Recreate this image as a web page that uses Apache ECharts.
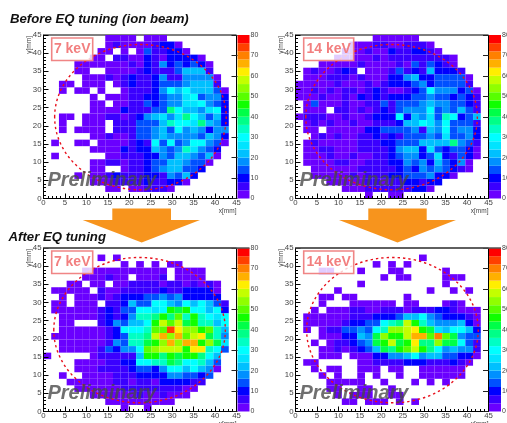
<!DOCTYPE html>
<html><head><meta charset="utf-8">
<style>html,body{margin:0;padding:0;background:#fff;overflow:hidden}#c{width:507px;height:423px;filter:blur(0.4px)}</style>
<script src="https://cdn.jsdelivr.net/npm/echarts@6/dist/echarts.min.js"></script>
</head><body><div id="c"></div>
<script>
// Counts per 1.8 mm bin; rows run from the top of the plot (y = 45) to the bottom (y = 0).
const before7keV = [
[0,0,0,0,0,0,0,0,2,2,2,2,0,2,2,2,0,0,0,0,0,0,0,0,0],
[0,0,0,0,0,0,0,0,2,6,2,2,2,2,6,10,10,2,0,0,0,0,0,0,0],
[0,0,0,0,0,0,0,2,2,0,2,0,2,14,6,6,10,10,2,0,0,0,0,0,0],
[0,0,0,0,0,0,2,2,0,6,6,2,2,10,6,2,10,10,10,10,2,0,0,0,0],
[0,0,0,0,2,2,2,2,2,2,2,6,2,10,6,18,10,14,10,14,10,2,0,0,0],
[0,0,0,0,2,2,0,0,2,2,2,2,6,10,6,6,6,14,22,22,22,6,0,0,0],
[0,0,0,0,0,2,2,2,6,2,6,10,6,6,10,18,6,6,18,18,18,18,2,0,0],
[0,0,2,2,0,2,2,2,0,2,6,10,6,6,10,14,14,14,18,22,22,22,6,0,0],
[0,0,2,0,2,2,0,2,0,0,2,6,6,6,10,18,30,22,30,22,22,22,14,2,0],
[0,0,0,0,0,0,2,0,2,2,2,6,6,10,10,14,18,18,26,30,14,18,18,10,0],
[0,0,0,0,0,0,2,2,0,2,2,6,6,14,10,14,18,18,26,26,30,18,14,10,0],
[0,0,0,0,0,0,2,2,2,2,10,6,6,6,14,14,38,30,22,22,18,26,30,10,0],
[0,0,2,2,0,2,2,2,6,6,2,6,10,18,22,26,18,26,38,30,22,14,22,10,0],
[0,0,2,0,0,2,2,2,0,6,6,6,14,14,14,22,34,30,30,26,38,22,18,10,0],
[0,0,2,0,2,2,2,2,0,6,6,6,14,14,18,22,14,30,18,22,18,10,18,18,0],
[0,0,0,0,0,0,2,2,6,2,2,6,14,14,18,22,18,18,18,18,14,22,18,10,0],
[0,2,0,0,2,2,0,2,2,2,2,6,10,6,30,14,30,14,18,30,30,18,14,2,0],
[0,0,0,0,0,0,2,2,2,2,10,6,10,10,22,18,14,18,34,26,18,14,10,0,0],
[0,2,0,0,0,0,0,0,2,2,6,6,6,10,10,18,14,22,22,18,14,22,2,0,0],
[0,0,0,0,0,0,2,2,6,6,2,6,6,10,14,14,22,22,18,14,14,2,0,0,0],
[0,0,0,0,0,0,2,2,0,0,2,6,6,10,14,18,22,22,14,14,10,0,0,0,0],
[0,0,0,0,2,0,2,2,6,10,6,6,6,10,10,6,18,14,22,10,0,0,0,0,0],
[0,0,0,0,0,0,2,2,2,6,6,6,6,10,6,6,10,10,2,0,0,0,0,0,0],
[0,0,0,0,0,0,0,0,2,2,0,2,2,6,6,6,2,0,0,0,0,0,0,0,0],
[0,0,0,0,0,0,0,0,0,0,0,0,0,0,0,0,0,0,0,0,0,0,0,0,0]];
const before14keV = [
[0,0,0,0,0,0,0,0,0,0,2,2,2,2,2,2,0,0,0,0,0,0,0,0,0],
[0,0,0,0,0,0,0,2,2,2,6,6,2,2,6,6,6,2,0,0,0,0,0,0,0],
[0,0,0,0,0,0,2,2,2,6,2,2,10,6,6,10,10,6,2,0,0,0,0,0,0],
[0,0,0,0,0,2,2,2,2,2,6,2,6,6,6,6,6,6,6,6,2,0,0,0,0],
[0,0,0,2,2,2,2,2,6,2,2,2,2,6,2,14,6,14,10,6,2,0,0,0,0],
[0,2,6,2,2,6,10,6,0,2,2,2,6,14,6,10,6,22,10,10,10,6,0,0,0],
[0,2,2,2,6,6,6,2,6,2,2,2,10,10,18,22,10,10,14,14,14,14,2,0,0],
[2,2,2,2,2,6,2,2,2,6,2,6,10,10,10,14,18,10,14,14,14,14,6,0,0],
[2,2,6,2,6,2,6,6,2,6,10,6,2,2,6,10,14,30,18,18,18,10,14,2,0],
[2,2,2,6,2,2,6,2,10,6,10,6,10,10,10,14,14,18,14,14,10,14,10,6,0],
[0,2,14,2,2,2,6,2,2,6,6,14,6,14,14,14,18,22,18,18,14,14,10,6,0],
[0,2,2,2,0,6,6,2,6,2,6,10,6,14,18,18,18,30,14,18,14,22,14,6,0],
[2,6,6,6,2,2,6,2,2,6,10,10,10,30,10,22,18,26,14,34,30,10,14,22,0],
[0,2,6,2,6,2,2,6,2,2,6,6,6,10,22,22,30,26,18,30,14,14,14,6,0],
[0,2,2,0,2,2,2,2,2,10,10,14,14,14,14,18,6,22,18,30,14,18,18,10,0],
[0,0,2,6,2,6,2,2,6,6,10,6,10,6,14,14,14,18,14,26,14,14,18,10,0],
[0,2,6,2,2,2,2,2,6,6,6,10,10,14,14,14,22,22,22,22,38,18,14,6,0],
[0,2,2,6,6,2,2,2,6,6,6,6,10,18,22,22,10,26,14,10,14,14,10,2,0],
[0,2,2,2,6,2,2,6,2,2,6,6,10,14,18,18,10,14,26,10,6,14,10,2,0],
[0,2,2,2,2,6,6,2,2,6,6,6,10,10,18,14,18,10,22,14,10,18,2,0,0],
[0,0,2,2,2,2,2,2,6,6,6,6,6,10,14,10,18,14,18,14,10,6,2,0,0],
[0,0,2,2,2,2,2,6,2,6,6,6,10,10,14,14,14,18,10,10,2,0,0,0,0],
[0,0,0,0,2,2,2,2,2,6,6,2,6,6,10,10,6,10,10,0,0,0,0,0,0],
[0,0,0,0,0,0,2,2,2,6,6,6,6,6,6,10,10,2,0,0,0,0,0,0,0],
[0,0,0,0,0,0,0,0,0,2,0,0,2,2,0,0,0,0,0,0,0,0,0,0,0]];
const after7keV = [
[0,0,0,0,0,0,0,0,0,0,0,0,0,0,0,0,0,0,0,0,0,0,0,0,0],
[0,0,0,0,0,0,0,2,0,2,0,0,0,0,0,0,0,0,0,0,0,0,0,0,0],
[0,0,0,0,0,0,0,0,0,0,2,0,2,0,2,0,2,2,0,0,0,0,0,0,0],
[0,0,0,0,0,2,2,2,2,2,2,2,2,2,2,2,0,2,2,2,2,0,0,0,0],
[0,0,0,0,0,2,2,2,6,2,2,0,2,2,2,6,0,2,2,2,2,0,0,0,0],
[0,0,0,2,2,0,2,2,0,2,2,6,6,6,6,2,6,6,2,6,2,6,2,0,0],
[0,2,2,2,2,2,0,6,2,2,6,6,6,6,6,10,6,6,10,10,10,10,2,0,0],
[0,0,2,0,2,2,2,6,2,6,10,10,10,14,14,18,14,18,10,10,10,10,10,0,0],
[0,2,2,0,2,2,2,0,6,6,10,22,14,14,30,30,22,18,30,22,30,22,14,6,0],
[0,2,2,2,2,2,2,6,10,6,14,14,30,30,24,30,44,40,44,30,30,22,30,10,0],
[0,0,2,2,2,2,2,6,10,6,10,18,34,34,38,46,38,50,34,44,34,30,26,30,0],
[0,0,2,2,0,0,0,6,10,18,14,22,22,30,44,58,50,58,40,46,32,32,22,30,0],
[0,0,2,2,2,2,2,2,6,10,30,30,30,32,50,50,74,62,54,54,44,50,34,22,0],
[0,2,2,2,2,2,2,2,6,10,14,34,34,38,58,66,54,66,50,58,60,42,34,18,0],
[0,0,2,2,2,2,2,2,6,18,14,32,32,40,44,54,66,54,66,66,46,52,40,26,0],
[0,0,2,2,2,2,2,6,14,10,18,18,30,50,54,56,56,56,44,60,60,34,30,14,0],
[2,0,0,0,0,0,2,6,6,6,6,6,22,44,44,38,46,42,44,44,38,30,22,0,0],
[0,0,0,0,2,2,2,2,6,6,10,10,30,30,34,32,40,38,30,30,34,22,14,0,0],
[0,0,0,0,2,2,2,6,6,6,6,10,14,14,10,18,30,30,22,30,22,18,2,0,0],
[0,0,2,0,0,2,2,2,2,6,6,6,10,10,10,10,18,18,14,14,10,14,0,0,0],
[0,0,0,2,2,2,2,2,2,6,6,2,6,6,2,10,10,10,10,6,6,0,0,0,0],
[0,0,0,0,2,2,2,2,2,2,6,6,6,6,6,6,6,6,2,2,0,0,0,0,0],
[0,0,0,0,0,0,2,2,2,2,2,2,6,2,2,6,2,2,2,0,0,0,0,0,0],
[0,0,0,0,0,0,0,0,2,2,2,2,2,2,2,2,2,0,0,0,0,0,0,0,0],
[0,0,0,0,0,0,0,0,0,0,2,0,0,2,0,0,0,0,0,0,0,0,0,0,0]];
const after14keV = [
[0,0,0,0,0,0,0,0,0,0,0,0,0,0,0,0,0,0,0,0,0,0,0,0,0],
[0,0,0,0,0,0,0,0,0,0,0,0,0,0,0,0,2,0,0,0,0,0,0,0,0],
[0,0,0,0,0,0,0,0,0,0,2,0,2,0,2,0,0,0,0,0,0,0,0,0,0],
[0,0,0,2,2,0,0,0,2,0,0,0,2,2,0,0,0,0,0,2,0,0,0,0,0],
[0,0,0,0,0,0,0,0,0,0,0,2,0,2,2,0,0,0,0,2,2,2,0,0,0],
[0,0,0,0,0,0,0,0,2,0,0,0,0,0,0,0,0,0,0,2,0,0,0,0,0],
[0,0,0,0,0,2,0,0,0,0,0,0,0,0,0,0,0,2,0,0,2,0,2,0,0],
[0,0,0,2,2,0,2,2,0,0,0,0,0,0,2,0,0,0,0,0,0,0,0,0,0],
[0,0,0,2,0,0,0,2,2,2,2,2,2,0,2,2,0,0,0,2,6,2,0,0,0],
[0,0,2,0,2,2,2,6,6,2,2,6,6,6,2,6,6,6,10,10,6,2,2,2,0],
[0,2,2,2,2,2,2,6,6,6,10,10,10,14,22,22,30,18,14,10,10,10,6,2,0],
[0,2,2,2,2,2,6,10,10,14,14,30,34,38,56,46,34,22,18,18,18,22,10,2,0],
[0,2,0,2,6,6,14,14,18,14,30,34,52,52,58,62,46,42,26,22,30,30,22,10,0],
[0,0,0,2,2,2,10,10,22,18,40,54,46,44,58,66,66,50,70,50,40,18,14,14,0],
[0,0,2,0,2,6,6,10,14,18,40,46,58,42,46,62,36,38,52,42,42,30,14,6,0],
[0,0,0,2,2,6,2,6,10,14,22,42,38,46,50,56,44,36,30,18,22,18,18,6,0],
[0,0,0,2,2,2,0,2,2,2,10,10,18,18,22,30,18,22,22,14,14,10,10,2,0],
[0,2,2,0,0,0,0,0,2,2,6,6,6,6,10,10,10,6,6,6,10,6,2,0,0],
[0,0,2,0,2,2,0,0,2,2,2,0,2,2,0,0,2,2,2,2,2,2,0,0,0],
[0,0,0,2,0,2,0,0,2,0,2,0,0,2,0,0,2,2,2,2,2,2,0,0,0],
[0,0,0,0,2,2,2,2,2,0,0,2,0,0,0,2,0,2,0,2,0,0,0,0,0],
[0,0,0,0,2,2,0,0,2,2,0,0,2,0,0,0,0,0,0,0,0,0,0,0,0],
[0,0,0,0,0,2,0,2,2,2,0,0,2,2,0,0,0,0,0,0,0,0,0,0,0],
[0,0,0,0,0,0,2,2,0,2,2,2,0,2,0,2,0,0,0,0,0,0,0,0,0],
[0,0,0,0,0,0,0,0,0,0,0,0,0,0,0,0,0,0,0,0,0,0,0,0,0]];
const binWidth = 1.8;
const zStep = 4;
const palette = ['#6a00ff','#3a00ff','#0000ff','#0050ff','#0090ff','#00c0ff','#00e4ff','#00ffff','#00ffc4','#00ff88','#00ff48','#10ff00','#58ff00','#90ff00','#c4ff00','#ffee00','#ffb000','#ff8000','#ff4000','#ff0000'];
const panelTitles = ['Before EQ tuning (ion beam)','After EQ tuning'];
const energies = ['7 keV','14 keV','7 keV','14 keV'];
const matrices = [before7keV,before14keV,after7keV,after14keV];
const beamCircle = [[22.6,22.4,20],[22.4,22.4,20],[22.4,22.4,20],[22.6,22.4,20]];

const panels = [
 {l:43.5,t:35,w:193,h:163.5,bl:237.5,bw:12},
 {l:295.5,t:35,w:193,h:163.5,bl:489,bw:12},
 {l:43.5,t:248,w:193,h:163.5,bl:237.5,bw:12},
 {l:295.5,t:248,w:193,h:163.5,bl:489,bw:12}
];
const labelColor='#444';
const grid=[],xAxis=[],yAxis=[],series=[],graphic=[];
function colorOf(v){return palette[Math.min(palette.length-1,Math.floor(v/zStep))];}
panels.forEach((p,i)=>{
  const gi=grid.length;
  grid.push({left:p.l,top:p.t,width:p.w,height:p.h,show:true,borderColor:'#000',borderWidth:1,backgroundColor:'#fff',outerBoundsMode:'none'});
  const common={type:'value',min:0,max:45,interval:5,z:5,splitLine:{show:false},nameMoveOverlap:false,
    axisLine:{show:true,onZero:false,lineStyle:{color:'#000',width:1}},
    axisTick:{show:true,inside:true,length:5,lineStyle:{color:'#000',width:1}},
    minorTick:{show:true,splitNumber:5,length:2.5,lineStyle:{color:'#000',width:1}}};
  xAxis.push(Object.assign({},common,{gridIndex:gi,position:'bottom',name:'x[mm]',nameLocation:'end',nameGap:0,
    nameTextStyle:{fontFamily:'Liberation Sans',fontSize:6.5,color:labelColor,align:'right',verticalAlign:'top',padding:[9,0,0,0]},
    axisLabel:{fontFamily:'Liberation Sans',fontSize:7.8,color:labelColor,margin:0.5}}));
  yAxis.push(Object.assign({},common,{gridIndex:gi,position:'left',name:'y[mm]',nameLocation:'end',nameRotate:90,nameGap:-1,
    nameTextStyle:{fontFamily:'Liberation Sans',fontSize:6.5,color:labelColor,align:'right',verticalAlign:'bottom',padding:[0,0,11,0]},
    axisLabel:{fontFamily:'Liberation Sans',fontSize:7.8,color:labelColor,margin:2}}));
  const cells=[];
  matrices[i].forEach((row,r)=>row.forEach((v,c)=>{
    if(v>0){const yHigh=45-r*binWidth;cells.push([c*binWidth,yHigh-binWidth,(c+1)*binWidth,yHigh,v]);}
  }));
  series.push({type:'custom',coordinateSystem:'cartesian2d',xAxisIndex:gi,yAxisIndex:gi,z:2,silent:true,
    encode:{x:[0,2],y:[1,3]},data:cells,
    renderItem:(params,api)=>{
      const a=api.coord([api.value(0),api.value(3)]),b=api.coord([api.value(2),api.value(1)]);
      return {type:'rect',shape:{x:a[0],y:a[1],width:b[0]-a[0],height:b[1]-a[1]},style:{fill:colorOf(api.value(4))}};
    }});
  series.push({type:'custom',coordinateSystem:'cartesian2d',xAxisIndex:gi,yAxisIndex:gi,z:3,silent:true,clip:false,
    encode:{x:0,y:1},data:[beamCircle[i]],
    renderItem:(params,api)=>{
      const c=api.coord([api.value(0),api.value(1)]),s=api.size([api.value(2),api.value(2)]);
      return {type:'ellipse',shape:{cx:c[0],cy:c[1],rx:s[0],ry:s[1]},style:{fill:null,stroke:'#e8101c',lineWidth:1.4,lineDash:[2.4,3]}};
    }});
  // colour bar
  const bi=grid.length;
  grid.push({left:p.bl,top:p.t,width:p.bw,height:p.h,show:false,outerBoundsMode:'none'});
  xAxis.push({type:'value',gridIndex:bi,min:0,max:1,show:false});
  yAxis.push({type:'value',gridIndex:bi,position:'right',min:0,max:80,interval:10,z:5,splitLine:{show:false},
    axisLine:{show:false},axisTick:{show:true,inside:true,length:6,lineStyle:{color:'#222',width:1}},
    axisLabel:{fontFamily:'Liberation Sans',fontSize:7,color:labelColor,margin:1}});
  series.push({type:'custom',coordinateSystem:'cartesian2d',xAxisIndex:bi,yAxisIndex:bi,z:2,silent:true,
    encode:{y:[0,1]},data:palette.map((_,k)=>[k*zStep,(k+1)*zStep,k]),
    renderItem:(params,api)=>{
      const a=api.coord([0,api.value(1)]),b=api.coord([1,api.value(0)]);
      return {type:'rect',shape:{x:a[0],y:a[1],width:b[0]-a[0],height:b[1]-a[1]},style:{fill:palette[api.value(2)]}};
    }});
  // overlays
  const wide=energies[i].length>5, boxW=wide?50:41, boxT=p.t+3;
  graphic.push({type:'rect',z:20,shape:{x:p.l+8.2,y:boxT,width:boxW,height:22.5},style:{fill:'rgba(255,255,255,0.8)',stroke:'#f08585',lineWidth:1.6}});
  graphic.push({type:'text',z:21,style:{x:p.l+8.2+boxW/2,y:boxT+11.5,text:energies[i],align:'center',verticalAlign:'middle',font:'bold 14px "Liberation Sans"',fill:'#f27f7f'}});
  graphic.push({type:'text',z:22,style:{x:p.l+4,y:p.t+145,text:'Preliminary',align:'left',verticalAlign:'middle',font:'italic bold 20px "Liberation Sans"',fill:'rgba(70,70,70,0.78)'}});
  if(i>1) graphic.push({type:'line',z:16,shape:{x1:p.l,y1:p.t,x2:p.bl+p.bw,y2:p.t},style:{stroke:'#555',lineWidth:1.6}});
});
[[82.7,141.7,200,112.3,171],[339,397.5,456,368.3,426.7]].forEach(a=>{
  graphic.push({type:'polygon',z:15,shape:{points:[[a[3],208.5],[a[4],208.5],[a[4],220],[a[2],220],[a[1],242.5],[a[0],220],[a[3],220]]},style:{fill:'#f7941d'}});
});
graphic.push({type:'text',z:23,style:{x:10,y:19,text:panelTitles[0],align:'left',verticalAlign:'middle',font:'italic bold 13.2px "Liberation Sans"',fill:'#111'}});
graphic.push({type:'text',z:23,style:{x:8.5,y:237.5,text:panelTitles[1],align:'left',verticalAlign:'middle',font:'italic bold 13.2px "Liberation Sans"',fill:'#111'}});
const chart=echarts.init(document.getElementById('c'),null,{renderer:'canvas'});
chart.setOption({animation:false,backgroundColor:'#fff',grid,xAxis,yAxis,series,graphic});
</script></body></html>
